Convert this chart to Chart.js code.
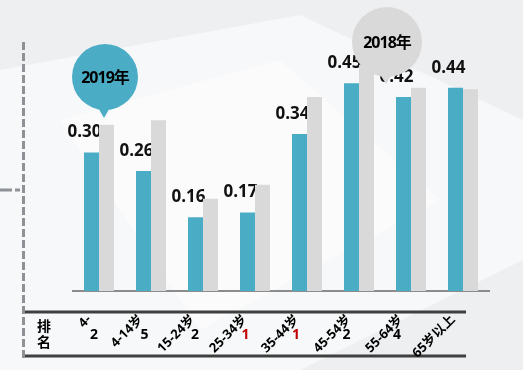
<!DOCTYPE html>
<html>
<head>
<meta charset="utf-8">
<script src="https://cdn.jsdelivr.net/npm/chart.js@4.4.1/dist/chart.umd.min.js"></script>
<style>
  html, body { margin: 0; padding: 0; background: #eff0f2; }
  canvas { display: block; }
</style>
</head>
<body>
<canvas id="myChart" width="523" height="370"></canvas>
<script>
const ageGroups = ['4-', '4-14岁', '15-24岁', '25-34岁', '35-44岁', '45-54岁', '55-64岁', '65岁以上'];
const values2019 = [0.30, 0.26, 0.16, 0.17, 0.34, 0.45, 0.42, 0.44];
const values2018 = [0.36, 0.37, 0.20, 0.23, 0.42, 0.49, 0.44, 0.437];
const ranks = [2, 5, 2, 1, 1, 2, 4, null];

const TEAL = '#4bacc6';
const GREY = '#d9d9d9';
const BOLD = '"Open Sans", "Noto Sans CJK SC", sans-serif';

// background + table rules + left dashes
const backdrop = {
    id: 'backdrop',
    beforeDraw(chart) {
        const c = chart.ctx;
        c.save();
        c.fillStyle = '#eeeff1';
        c.fillRect(0, 0, chart.width, chart.height);
        c.fillStyle = '#f7f8f9';
        c.beginPath();
        c.moveTo(0, 70); c.lineTo(300, 15); c.lineTo(523, 120);
        c.lineTo(523, 260); c.lineTo(300, 370); c.lineTo(0, 370);
        c.closePath(); c.fill();
        c.fillStyle = '#fbfbfc';
        c.beginPath();
        c.moveTo(60, 120); c.lineTo(280, 60); c.lineTo(440, 200);
        c.lineTo(200, 330); c.closePath(); c.fill();

        // dashed divider on the left
        c.strokeStyle = '#8e9297';
        c.lineWidth = 3;
        c.setLineDash([8, 3]);
        c.beginPath(); c.moveTo(23.5, 42); c.lineTo(23.5, 360); c.stroke();
        c.setLineDash([12, 3]);
        c.beginPath(); c.moveTo(0, 190); c.lineTo(20, 190); c.stroke();
        c.setLineDash([]);

        // rank table rules
        c.strokeStyle = '#3f3f3f';
        c.lineWidth = 3;
        c.beginPath();
        c.moveTo(25, 312); c.lineTo(466, 312);
        c.moveTo(25, 356); c.lineTo(466, 356);
        c.stroke();
        c.restore();
    }
};

// value labels above the 2019 bars (drawn under the bars)
const valueLabels = {
    id: 'valueLabels',
    beforeDatasetsDraw(chart) {
        const c = chart.ctx;
        c.save();
        c.font = 'bold 17px ' + BOLD;
        c.fillStyle = '#111';
        c.textAlign = 'center';
        c.textBaseline = 'middle';
        chart.getDatasetMeta(0).data.forEach((bar, i) => {
            c.fillText(values2019[i].toFixed(2), bar.x - 7, bar.y - 20);
        });
        c.restore();
    }
};

function bubble(c, cx, cy, r, tipX, tipY, color, text) {
    c.fillStyle = color;
    c.beginPath();
    c.arc(cx, cy, r, 0, Math.PI * 2);
    c.fill();
    c.beginPath();
    c.moveTo(tipX - 8, cy + r - 6);
    c.lineTo(tipX + 8, cy + r - 6);
    c.lineTo(tipX, tipY);
    c.closePath();
    c.fill();
    c.fillStyle = '#000';
    c.font = 'bold 16px ' + BOLD;
    c.letterSpacing = '-1px';
    c.textAlign = 'center';
    c.textBaseline = 'middle';
    c.fillText(text, cx, cy + 1);
    c.letterSpacing = '0px';
}

const extras = {
    id: 'extras',
    afterDraw(chart) {
        const c = chart.ctx;
        const x = chart.scales.x;
        c.save();
        bubble(c, 105, 77, 33, 104, 118, TEAL, '2019年');
        bubble(c, 387, 42, 35, 386, 84, GREY, '2018年');

        c.font = 'bold 14px ' + BOLD;
        c.textAlign = 'center';
        c.textBaseline = 'middle';
        c.fillStyle = '#000';
        c.fillText('排', 44, 327);
        c.fillText('名', 44, 343);
        ranks.forEach((r, i) => {
            if (r === null) return;
            c.fillStyle = r === 1 ? '#c00000' : '#000';
            c.fillText(String(r), x.getPixelForValue(i) - 5 - i * 1.5, 335);
        });
        c.restore();
    }
};

const ctx = document.getElementById('myChart').getContext('2d');
const myChart = new Chart(ctx, {
    type: 'bar',
    data: {
        labels: ageGroups,
        datasets: [
            { label: '2019年', data: values2019, backgroundColor: TEAL },
            { label: '2018年', data: values2018, backgroundColor: GREY }
        ]
    },
    options: {
        responsive: false,
        animation: false,
        events: [],
        layout: { padding: { left: 73, right: 34, top: 14, bottom: 0 } },
        datasets: { bar: { barPercentage: 1, categoryPercentage: 0.577 } },
        scales: {
            x: {
                grid: { display: false, drawTicks: false },
                border: { color: '#8c8c8c', width: 2 },
                ticks: {
                    autoSkip: false,
                    minRotation: 45,
                    maxRotation: 45,
                    padding: 21,
                    labelOffset: -10,
                    color: '#000',
                    font: { family: BOLD, size: 13, weight: 'bold' }
                },
                afterFit(scale) { scale.height = 79; }
            },
            y: { display: false, min: 0, max: 0.6 }
        },
        plugins: {
            legend: { display: false },
            tooltip: { enabled: false }
        }
    },
    plugins: [backdrop, valueLabels, extras]
});
</script>
</body>
</html>
